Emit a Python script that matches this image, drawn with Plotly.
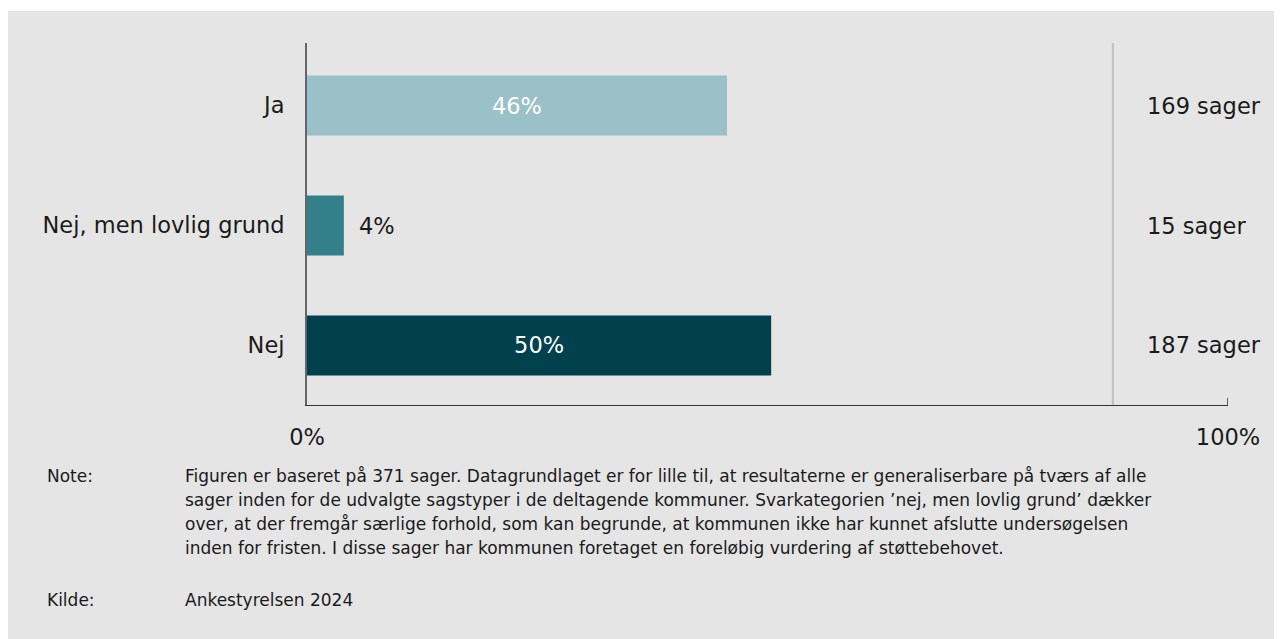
import plotly.graph_objects as go

categories = ["Ja", "Nej, men lovlig grund", "Nej"]
shares = [45.6, 4.0, 50.4]
bar_labels = ["46%", "4%", "50%"]
case_counts = ["169 sager", "15 sager", "187 sager"]
bar_colors = ["#9AC1C7", "#33808B", "#00414D"]
label_inside = [True, False, True]
x_ticks = [0, 100]
x_ticktext = ["0%", "100%"]

note_lines = [
    "Figuren er baseret på 371 sager. Datagrundlaget er for lille til, at resultaterne er generaliserbare på tværs af alle",
    "sager inden for de udvalgte sagstyper i de deltagende kommuner. Svarkategorien ’nej, men lovlig grund’ dækker",
    "over, at der fremgår særlige forhold, som kan begrunde, at kommunen ikke har kunnet afslutte undersøgelsen",
    "inden for fristen. I disse sager har kommunen foretaget en foreløbig vurdering af støttebehovet.",
]
source_text = "Ankestyrelsen 2024"

FONT = "DejaVu Sans"
BIG = 22.5
SMALL = 17
TXT = "#1a1a1a"
OFF = 8  # page offset of the figure
W, H = 1274, 631
L = 307 - OFF
T = 43 - OFF
R = W - (1228 - OFF)
B = H - (405 - OFF)
PW, PH = W - L - R, H - T - B


def px_x(page_x):
    return (page_x - OFF - L) / PW


def px_y(page_y):
    return 1 - (page_y - OFF - T) / PH


fig = go.Figure()
fig.add_trace(go.Bar(
    y=categories, x=shares, orientation="h",
    marker=dict(color=bar_colors, line=dict(width=0)),
    width=0.5,
    text=[t if ins else "" for t, ins in zip(bar_labels, label_inside)],
    textposition="inside",
    insidetextanchor="middle",
    insidetextfont=dict(family=FONT, size=BIG, color="white"),
    cliponaxis=False,
    hoverinfo="skip",
))

annotations = []
for cat, val, lab, ins in zip(categories, shares, bar_labels, label_inside):
    if not ins:
        annotations.append(dict(
            x=val, y=cat, xref="x", yref="y", text=lab, showarrow=False,
            xanchor="left", yanchor="middle", xshift=13,
            font=dict(family=FONT, size=BIG, color=TXT),
        ))

for cat, cnt in zip(categories, case_counts):
    annotations.append(dict(
        x=91.0, y=cat, xref="x", yref="y", text=cnt, showarrow=False,
        xanchor="left", yanchor="middle",
        font=dict(family=FONT, size=BIG, color=TXT),
    ))

note_y0 = 476
for i, line in enumerate(note_lines):
    annotations.append(dict(
        x=px_x(183), y=px_y(note_y0 + 24 * i), xref="paper", yref="paper",
        text=line, showarrow=False, xanchor="left", yanchor="middle",
        font=dict(family=FONT, size=SMALL, color=TXT),
    ))
for lab, txt, yy in [("Note:", None, note_y0), ("Kilde:", source_text, 600)]:
    annotations.append(dict(
        x=px_x(45), y=px_y(yy), xref="paper", yref="paper", text=lab,
        showarrow=False, xanchor="left", yanchor="middle",
        font=dict(family=FONT, size=SMALL, color=TXT),
    ))
    if txt:
        annotations.append(dict(
            x=px_x(183), y=px_y(yy), xref="paper", yref="paper", text=txt,
            showarrow=False, xanchor="left", yanchor="middle",
            font=dict(family=FONT, size=SMALL, color=TXT),
        ))

shapes = [
    dict(type="line", xref="x", yref="paper", x0=87.5, x1=87.5, y0=0, y1=1,
         line=dict(color="#C0C0C0", width=2)),
    dict(type="line", xref="x", yref="paper", x0=100, x1=100, y0=0, y1=7 / PH,
         line=dict(color="#333333", width=1.5)),
    # white strip at the very top of the page
    dict(type="rect", xref="paper", yref="paper", x0=px_x(0), x1=px_x(1290),
         y0=px_y(OFF), y1=px_y(11), fillcolor="white", line=dict(width=0), layer="above"),
]

fig.update_layout(
    width=W, height=H,
    margin=dict(l=L, r=R, t=T, b=B, pad=0),
    paper_bgcolor="#E5E5E5", plot_bgcolor="#E5E5E5",
    showlegend=False,
    font=dict(family=FONT, size=BIG, color=TXT),
    annotations=annotations,
    shapes=shapes,
    xaxis=dict(
        range=[0, 100], tickvals=x_ticks, ticktext=x_ticktext,
        showgrid=False, zeroline=False, showline=True, linecolor="#333333", linewidth=1,
        ticks="", ticklabelstandoff=12,
        tickfont=dict(family=FONT, size=BIG, color=TXT),
        fixedrange=True,
    ),
    yaxis=dict(
        type="category", categoryorder="array", categoryarray=categories,
        range=[2.496, -0.521], showgrid=False, zeroline=False,
        showline=True, linecolor="#666666", linewidth=2,
        ticks="", ticklabelstandoff=16,
        tickfont=dict(family=FONT, size=BIG, color=TXT),
        fixedrange=True,
    ),
)

fig.write_html("out.html")
